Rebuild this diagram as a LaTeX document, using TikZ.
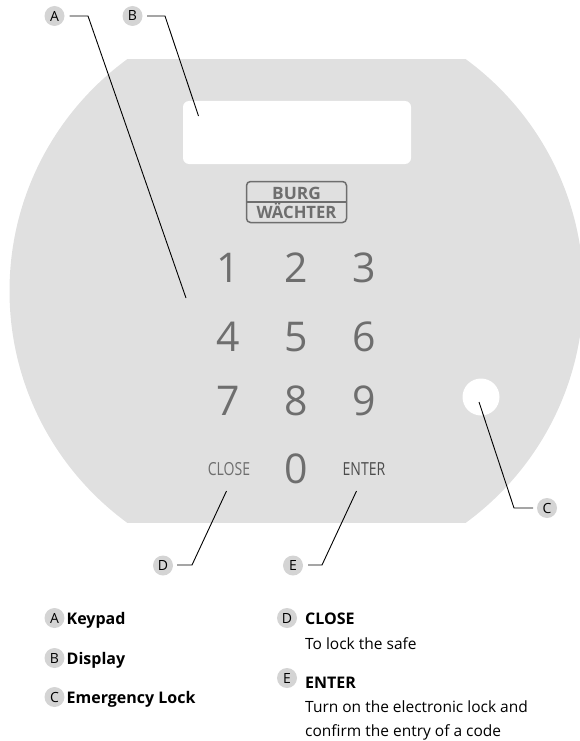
\documentclass[tikz,border=0pt]{standalone}
\usepackage{fontspec}
\setmainfont{Open Sans}
\newfontfamily\logofont{Open Sans}
\definecolor{plate}{HTML}{E0E0E0}
\definecolor{badge}{HTML}{D4D4D4}
\definecolor{keyc}{HTML}{6E6E6E}
\tikzset{
  x=1pt,y=-1pt,
  badgenode/.style={circle,fill=badge,minimum size=20pt,inner sep=0pt,font=\fontsize{14}{14}\selectfont},
  leader/.style={draw=black,line width=0.9pt,line join=miter},
  digit/.style={anchor=base,text=keyc,inner sep=0pt,font=\fontsize{41}{41}\selectfont},
  softkey/.style={anchor=base,inner sep=0pt,xscale=0.78,font=\fontsize{18}{18}\selectfont},
  legendhead/.style={anchor=base west,inner sep=0pt,font=\fontsize{16}{16}\selectfont\bfseries},
  legendtext/.style={anchor=base west,inner sep=0pt,font=\fontsize{15.5}{15.5}\selectfont},
  logotext/.style={anchor=base,inner sep=0pt,text=keyc,font=\fontsize{17}{17}\selectfont\bfseries},
}
\begin{document}
\begin{tikzpicture}
\useasboundingbox (0,0) rectangle (580,741);
% plate
\begin{scope}
\clip (0,60) rectangle (580,522);
\fill[plate] (296.5,291) circle (287);
\end{scope}
% display
\node[fill=white,rounded corners=6pt,minimum width=228pt,minimum height=63pt,inner sep=0pt] (display) at (297,132.5) {};
% logo
\node[draw=keyc,line width=1.5pt,rounded corners=4pt,minimum width=100pt,minimum height=41pt,inner sep=0pt] (logo) at (296.5,202) {};
\draw[keyc,line width=1.2pt] (logo.west) -- (logo.east);
\node[logotext,xscale=1.02] (burg) at (296.5,199) {BURG};
\node[logotext,xscale=0.98] (wachter) at (296.5,218.5) {WÄCHTER};
% keys
\node[digit] (k1) at (228,282) {1};
\node[digit] (k2) at (296,282) {2};
\node[digit] (k3) at (364,282) {3};
\node[digit] (k4) at (228,351) {4};
\node[digit] (k5) at (296,351) {5};
\node[digit] (k6) at (364,351) {6};
\node[digit] (k7) at (228,415) {7};
\node[digit] (k8) at (296,415) {8};
\node[digit] (k9) at (364,415) {9};
\node[digit] (k0) at (296,483) {0};
\node[softkey,text=keyc] (close) at (229,475.5) {CLOSE};
\node[softkey,text=black!70] (enter) at (364,475.5) {ENTER};
% emergency lock
\node[circle,fill=white,minimum size=37pt,inner sep=0pt] (lock) at (481,397) {};
% badges
\node[badgenode] (A) at (54.5,16) {A};
\node[badgenode] (B) at (132.5,16) {B};
\node[badgenode] (C) at (547,508) {C};
\node[badgenode] (D) at (163,565.5) {D};
\node[badgenode] (E) at (293,565.5) {E};
% leader ends
\coordinate (Aa) at (69.5,16);\coordinate (Ab) at (88,16);\coordinate (Ac) at (186,298);
\coordinate (Ba) at (147,16);\coordinate (Bb) at (165,16);\coordinate (Bc) at (198.5,116);
\coordinate (Ca) at (533,508);\coordinate (Cb) at (514,508);\coordinate (Cc) at (479,402);
\coordinate (Da) at (177,565);\coordinate (Db) at (192,565);\coordinate (Dc) at (226.5,491);
\coordinate (Ea) at (308,565);\coordinate (Eb) at (322,565);\coordinate (Ec) at (356.5,491);
\draw[leader] (Aa) -- (Ab) -- (Ac);
\draw[leader] (Ba) -- (Bb) -- (Bc);
\draw[leader] (Ca) -- (Cb) -- (Cc);
\draw[leader] (Da) -- (Db) -- (Dc);
\draw[leader] (Ea) -- (Eb) -- (Ec);
% legend
\node[badgenode] (LA) at (54.5,618) {A};
\node[badgenode] (LB) at (54.5,658) {B};
\node[badgenode] (LC) at (54.5,697) {C};
\node[badgenode] (LD) at (287,618) {D};
\node[badgenode] (LE) at (287,678) {E};
\node[legendhead] (tA) at (66.5,624) {Keypad};
\node[legendhead] (tB) at (66.5,664) {Display};
\node[legendhead] (tC) at (66.5,703) {Emergency Lock};
\node[legendhead] (tD) at (305,624) {CLOSE};
\node[legendtext] (tD2) at (305,649) {To lock the safe};
\node[legendhead] (tE) at (305,688) {ENTER};
\node[legendtext] (tE2) at (305,712) {Turn on the electronic lock and};
\node[legendtext] (tE3) at (305,736) {confirm the entry of a code};
\end{tikzpicture}
\end{document}
